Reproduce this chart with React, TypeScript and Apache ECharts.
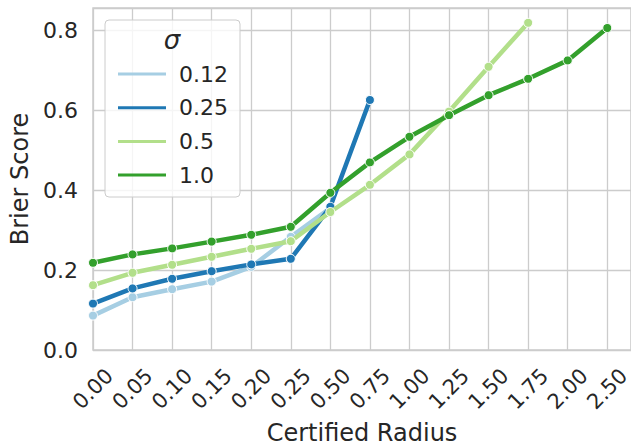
import React, { useEffect, useRef } from "react";
import * as echarts from "echarts";

const categories = ["0.00", "0.05", "0.10", "0.15", "0.20", "0.25", "0.50", "0.75", "1.00", "1.25", "1.50", "1.75", "2.00", "2.50"];
const sigmaNames = ["0.12", "0.25", "0.5", "1.0"];
const s012 = [0.086, 0.132, 0.152, 0.171, 0.208, 0.283, 0.355];
const s025 = [0.116, 0.154, 0.178, 0.197, 0.214, 0.228, 0.358, 0.625];
const s05 = [0.162, 0.193, 0.213, 0.233, 0.253, 0.272, 0.345, 0.413, 0.489, 0.596, 0.708, 0.818];
const s10 = [0.218, 0.239, 0.254, 0.271, 0.288, 0.308, 0.393, 0.469, 0.533, 0.587, 0.637, 0.678, 0.724, 0.805];
const colors = ["#a6cee3", "#1f78b4", "#b2df8a", "#33a02c"];

const FONT = "DejaVu Sans";
const TXT = "#262626";
const GRIDC = "#cccccc";

export default function App() {
  const ref = useRef<HTMLDivElement>(null);
  useEffect(() => {
    if (!ref.current) return;
    const chart = echarts.init(ref.current, null, { renderer: "svg" });
    const all = [s012, s025, s05, s10];
    const series = all.map((arr, k) => ({
      name: sigmaNames[k],
      type: "line",
      data: arr.map((v, i) => [i, v]),
      color: colors[k],
      lineStyle: { width: 4.5, color: colors[k] },
      symbol: "circle",
      symbolSize: 9,
      showSymbol: true,
      itemStyle: { color: colors[k], borderColor: "#ffffff", borderWidth: 1 },
      z: 2 + k,
    }));
    chart.setOption({
      animation: false,
      textStyle: { fontFamily: FONT },
      grid: {
        left: 93,
        right: 0,
        top: 8,
        bottom: 94,
        show: true,
        containLabel: false,
        outerBoundsMode: "none",
        borderColor: GRIDC,
        borderWidth: 1.5,
        backgroundColor: "#ffffff",
      },
      xAxis: {
        type: "value",
        min: 0,
        max: 13.6,
        interval: 1,
        axisLine: { show: false },
        axisTick: { show: false },
        splitLine: { show: true, lineStyle: { color: GRIDC, width: 1.3 } },
        axisLabel: {
          rotate: 45,
          align: "center",
          verticalAlign: "middle",
          margin: 39,
          fontSize: 21,
          color: TXT,
          fontFamily: FONT,
          showMaxLabel: false,
          formatter: (v: number) => (Number.isInteger(v) && v < categories.length ? categories[v] : ""),
        },
        name: "Certified Radius",
        nameLocation: "middle",
        nameGap: 65,
        nameTextStyle: { fontSize: 24, lineHeight: 26, color: TXT, fontFamily: FONT },
      },
      yAxis: {
        type: "value",
        min: 0,
        max: 0.855,
        interval: 0.2,
        axisLine: { show: false },
        axisTick: { show: false },
        splitLine: { show: true, lineStyle: { color: GRIDC, width: 1.3 } },
        axisLabel: {
          margin: 15,
          fontSize: 22,
          color: TXT,
          fontFamily: FONT,
          showMaxLabel: false,
          formatter: (v: number) => v.toFixed(1),
        },
        name: "Brier Score",
        nameLocation: "middle",
        nameGap: 51,
        nameTextStyle: { fontSize: 24, color: TXT, fontFamily: FONT },
      },
      legend: {
        orient: "vertical",
        left: 113,
        top: 58,
        itemWidth: 48,
        itemHeight: 3,
        itemGap: 11.7,
        z: 10,
        itemStyle: { borderWidth: 0 },
        data: sigmaNames.map((n, k) => ({ name: n, icon: "rect", itemStyle: { color: colors[k], borderWidth: 0 } })),
        textStyle: { fontSize: 22, lineHeight: 22, color: TXT, fontFamily: FONT, padding: [0, 0, 0, 8] },
      },
      graphic: [
        {
          type: "rect",
          z: 8,
          shape: { x: 105, y: 20, width: 135, height: 177, r: 4 },
          style: { fill: "rgba(255,255,255,0.8)", stroke: GRIDC, lineWidth: 1 },
        },
        {
          type: "text",
          z: 9,
          x: 172,
          y: 40,
          style: {
            text: "σ",
            fontSize: 26,
            fontStyle: "italic",
            fontFamily: FONT,
            fill: TXT,
            align: "center",
            verticalAlign: "middle",
          },
        },
      ],
      series,
    });
    return () => chart.dispose();
  }, []);
  return <div ref={ref} style={{ width: 631, height: 444, position: "absolute", left: 0, top: 0 }} />;
}
